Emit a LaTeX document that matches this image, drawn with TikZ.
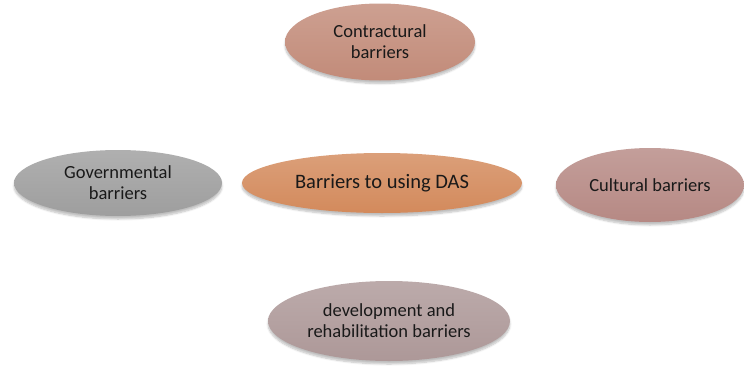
\documentclass[tikz,border=0pt]{standalone}
\usepackage{fontspec}
\setmainfont{Carlito}
\usepackage{tikz}
\usetikzlibrary{positioning,shapes.geometric,shadows.blur}

\definecolor{contractfill}{HTML}{C28B79}
\definecolor{govfill}{HTML}{9E9E9E}
\definecolor{dasfill}{HTML}{D38A5C}
\definecolor{culturefill}{HTML}{B68984}
\definecolor{devfill}{HTML}{AD9898}

\begin{document}
\begin{tikzpicture}
[
                  x =  1pt,
                  y = -1pt,
     barrier/.style = { ellipse, draw=none, inner sep=0pt, align=center,
                        font=\fontsize{18.5}{21}\selectfont, text=black!90,
                        blur shadow={shadow xshift=0pt, shadow yshift=-3pt,
                                     shadow blur steps=6, shadow opacity=25} },
        main/.style = { barrier, font=\fontsize{20.5}{24}\selectfont }
]

    \useasboundingbox (0,0) rectangle (744,367);

    \node (DAS)          at (382,183) [main, minimum width=280pt, minimum height=60pt,
                                       top color=dasfill!82!white, bottom color=dasfill]
                                      {Barriers to using DAS};
    \node (Contractural) at (380,42)  [barrier, minimum width=190pt, minimum height=77pt,
                                       top color=contractfill!82!white, bottom color=contractfill]
                                      {Contractural\\barriers};
    \node (Governmental) at (118,183) [barrier, minimum width=208pt, minimum height=66pt,
                                       top color=govfill!82!white, bottom color=govfill]
                                      {Governmental\\barriers};
    \node (Cultural)     at (650,185) [barrier, minimum width=188pt, minimum height=74pt,
                                       top color=culturefill!82!white, bottom color=culturefill]
                                      {Cultural barriers};
    \node (Development)  at (389,321) [barrier, minimum width=242pt, minimum height=80pt,
                                       top color=devfill!82!white, bottom color=devfill]
                                      {development and\\rehabilitation barriers};

\end{tikzpicture}
\end{document}
